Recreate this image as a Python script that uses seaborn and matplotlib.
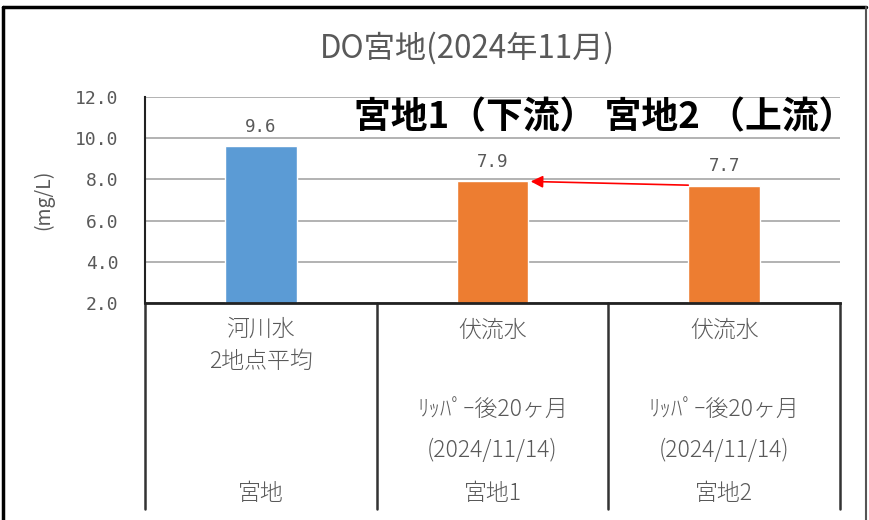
import matplotlib
matplotlib.use("Agg")
import matplotlib.pyplot as plt
import seaborn as sns
import pandas as pd

sns.set_style("white")
plt.rcParams['font.family'] = ['Noto Sans CJK JP', 'DejaVu Sans']

# ---- data ----
sites = ["宮地", "宮地1", "宮地2"]
do_values = [9.6, 7.9, 7.7]
water_type = ["河川水", "伏流水", "伏流水"]
sub_label = ["2地点平均", "", ""]
period_label = ["", "ﾘｯﾊﾟｰ後20ヶ月", "ﾘｯﾊﾟｰ後20ヶ月"]
date_label = ["", "(2024/11/14)", "(2024/11/14)"]
group = ["river", "sub", "sub"]
yticks = [2.0, 4.0, 6.0, 8.0, 10.0, 12.0]
title = "DO宮地(2024年11月)"
ylabel = "(mg/L)"
annotation = "宮地1（下流） 宮地2 （上流）"

palette = {"river": "#5B9BD5", "sub": "#ED7D31"}
gray = "#595959"

df = pd.DataFrame({"site": sites, "value": do_values, "group": group})

fig = plt.figure(figsize=(8.69, 5.2), dpi=100)
ax = fig.add_axes([145 / 869, 1 - 303 / 520, 695 / 869, 206 / 520])

bar_w = 0.31
sns.barplot(data=df, x="site", y="value", hue="group", palette=palette,
            dodge=False, width=bar_w, legend=False, ax=ax, saturation=1)

ax.set_ylim(2.0, 12.0)
ax.set_xlim(-0.5, len(sites) - 0.5)
ax.set_yticks(yticks)
ax.set_yticklabels([f"{t:.1f}" for t in yticks], color=gray, fontsize=13,
                   family=['DejaVu Sans Mono'])
ax.tick_params(axis='y', length=0, pad=19)
ax.set_xticks([])
ax.set_xlabel("")
ax.set_ylabel(ylabel, color=gray, fontsize=14, labelpad=15)
ax.yaxis.grid(True, color="#a6a6a6", linewidth=1.2)
ax.set_axisbelow(True)
for s in ["top", "right"]:
    ax.spines[s].set_visible(False)
ax.spines["left"].set_color("#222222")
ax.spines["left"].set_linewidth(1.5)
ax.spines["bottom"].set_color("#222222")
ax.spines["bottom"].set_linewidth(2)

# value labels
for i, v in enumerate(do_values):
    ax.text(i, v + 0.95, f"{v:.1f}", ha="center", va="center", color=gray,
            fontsize=12.5, family=['DejaVu Sans Mono'])

# category table below axis
trans = ax.get_xaxis_transform()
for xb in [i - 0.5 for i in range(len(sites) + 1)]:
    ax.plot([xb, xb], [0, -1.0], transform=trans, color="#333333",
            linewidth=1.8, clip_on=False)
rows = [(water_type, -0.13), (sub_label, -0.285), (period_label, -0.52),
        (date_label, -0.715), (sites, -0.925)]
for labels, yy in rows:
    for i, lab in enumerate(labels):
        if lab:
            ax.text(i, yy, lab, transform=trans, ha="center", va="center",
                    color=gray, fontsize=16.5, fontweight="light")

# title
fig.text(467 / 869, 1 - 48 / 520, title, ha="center", va="center",
         color=gray, fontsize=22.5)

# bold annotation
fig.text(605 / 869, 1 - 118 / 520, annotation, ha="center", va="center",
         color="black", fontsize=26.5, fontweight="bold")

# red arrow from bar 3 to bar 2
ax.annotate("", xy=(1 + bar_w / 2 + 0.01, do_values[1]),
            xytext=(2 - bar_w / 2, do_values[2] + 0.02),
            arrowprops=dict(arrowstyle="-|>", color="red", lw=1.2,
                            mutation_scale=18, shrinkA=0, shrinkB=0))

# outer frame
fig.add_artist(plt.Line2D([3 / 869, 3 / 869], [0, 1 - 7 / 520],
                          color="black", linewidth=2.5))
fig.add_artist(plt.Line2D([3 / 869, 866 / 869], [1 - 7 / 520, 1 - 7 / 520],
                          color="black", linewidth=2.5))
fig.add_artist(plt.Line2D([866 / 869, 866 / 869], [0, 1 - 7 / 520],
                          color="#555555", linewidth=1.5))

fig.savefig("out.png", dpi=100, facecolor="white")
